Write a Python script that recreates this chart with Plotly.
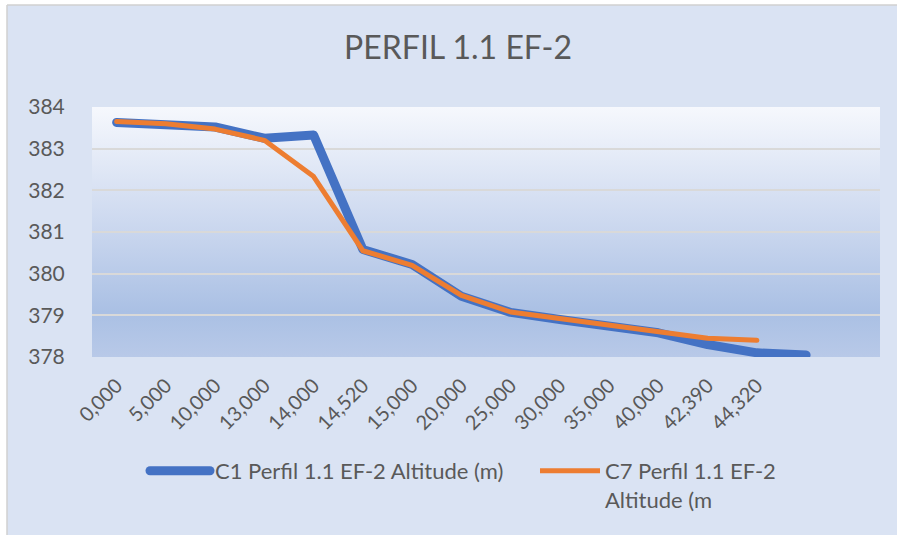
import base64
import plotly.graph_objects as go

# ---- data ----
categories = ["0,000", "5,000", "10,000", "13,000", "14,000", "14,520", "15,000",
              "20,000", "25,000", "30,000", "35,000", "40,000", "42,390", "44,320", "", ""]
c1_altitude = [383.63, 383.60, 383.52, 383.25, 383.33, 380.58, 380.22, 379.46, 379.07,
               378.90, 378.73, 378.58, 378.30, 378.10, 378.05, None]
c7_altitude = [383.65, 383.60, 383.47, 383.20, 382.33, 380.55, 380.20, 379.48, 379.08,
               378.92, 378.77, 378.63, 378.45, 378.40, None, None]
series_names = ["C1 Perfil 1.1 EF-2 Altitude (m)", "C7 Perfil 1.1 EF-2<br>Altitude (m"]
y_ticks = [378, 379, 380, 381, 382, 383, 384]

W, H = 897, 535
L, R, T, B = 92, 17, 107, 178
PW, PH = W - L - R, H - T - B

def px_x(p):
    return (p - L) / PW

def px_y(p):
    return (H - B - p) / PH

xs = list(range(len(categories)))

fig = go.Figure()
fig.add_trace(go.Scatter(x=xs, y=c1_altitude, mode="lines", name=series_names[0],
                         line=dict(color="#4472c4", width=9), connectgaps=False,
                         legend="legend"))
fig.add_trace(go.Scatter(x=xs, y=c7_altitude, mode="lines", name=series_names[1],
                         line=dict(color="#ed7d31", width=5), connectgaps=False,
                         legend="legend2"))

svg = ('<svg xmlns="http://www.w3.org/2000/svg" width="100" height="100" viewBox="0 0 100 100" '
       'preserveAspectRatio="none"><defs><linearGradient id="g" x1="0" y1="0" x2="0" y2="1">'
       '<stop offset="0" stop-color="#f6f8fd"/><stop offset="0.5" stop-color="#c9d6ee"/>'
       '<stop offset="0.82" stop-color="#aac0e4"/><stop offset="1" stop-color="#b8c9e8"/>'
       '</linearGradient></defs><rect x="0" y="0" width="100" height="100" fill="url(#g)"/></svg>')
src = "data:image/svg+xml;base64," + base64.b64encode(svg.encode()).decode()

font_fam = "Lato, 'Open Sans', sans-serif"
grey = "#595959"

legend_common = dict(orientation="v", xref="container", yref="container",
                     xanchor="left", yanchor="top", bgcolor="rgba(0,0,0,0)",
                     itemwidth=60, font=dict(size=22, color=grey, family=font_fam),
                     valign="top")

fig.update_layout(
    width=W, height=H,
    margin=dict(l=L, r=R, t=T, b=B, pad=0, autoexpand=False),
    paper_bgcolor="#dae3f3",
    plot_bgcolor="rgba(0,0,0,0)",
    font=dict(family=font_fam, color=grey, size=20),
    title=dict(text="PERFIL 1.1 EF-2", x=458 / W, xanchor="center", xref="container",
               y=1 - 48 / H, yanchor="middle", yref="container",
               font=dict(size=32, color=grey, family=font_fam)),
    xaxis=dict(range=[-0.5, len(categories) - 0.5], tickmode="array", tickvals=xs,
               ticktext=categories, tickangle=-45, showgrid=False, zeroline=False,
               showline=False, ticks="", ticklabelstandoff=12,
               tickfont=dict(size=20, color=grey)),
    yaxis=dict(range=[378, 384], tickvals=y_ticks, showgrid=True, gridcolor="#d9d9d9",
               gridwidth=1.5, zeroline=False, showline=False, ticks="outside",
               ticklen=22, tickcolor="rgba(0,0,0,0)", tickfont=dict(size=21, color=grey)),
    showlegend=True,
    legend=dict(x=145 / W, y=1 - 450 / H, **legend_common),
    legend2=dict(x=535 / W, y=1 - 450 / H, **legend_common),
    images=[dict(source=src, xref="paper", yref="paper", x=0, y=1, sizex=1, sizey=1,
                 xanchor="left", yanchor="top", sizing="stretch", layer="below")],
    shapes=[
        dict(type="rect", xref="paper", yref="paper", x0=-0.3, x1=px_x(7), y0=-1, y1=2,
             fillcolor="white", line=dict(width=0), layer="below"),
        dict(type="rect", xref="paper", yref="paper", x0=-0.3, x1=1.3, y0=px_y(5), y1=2,
             fillcolor="white", line=dict(width=0), layer="below"),
        dict(type="line", xref="paper", yref="paper", x0=px_x(7), x1=px_x(7), y0=-1, y1=px_y(5),
             line=dict(color="#d0d0d0", width=1.5), layer="below"),
        dict(type="line", xref="paper", yref="paper", x0=px_x(7), x1=1.3, y0=px_y(5), y1=px_y(5),
             line=dict(color="#d0d0d0", width=1.5), layer="below"),
    ],
)

post = """
document.body.style.margin = '0';
document.body.style.padding = '0';
document.querySelectorAll('.scatterlayer .js-line, .legend .js-line').forEach(function(p){
  p.style.strokeLinecap='round'; p.style.strokeLinejoin='round';
});
"""
fig.write_html("out.html", post_script=post, config={"displayModeBar": False})
